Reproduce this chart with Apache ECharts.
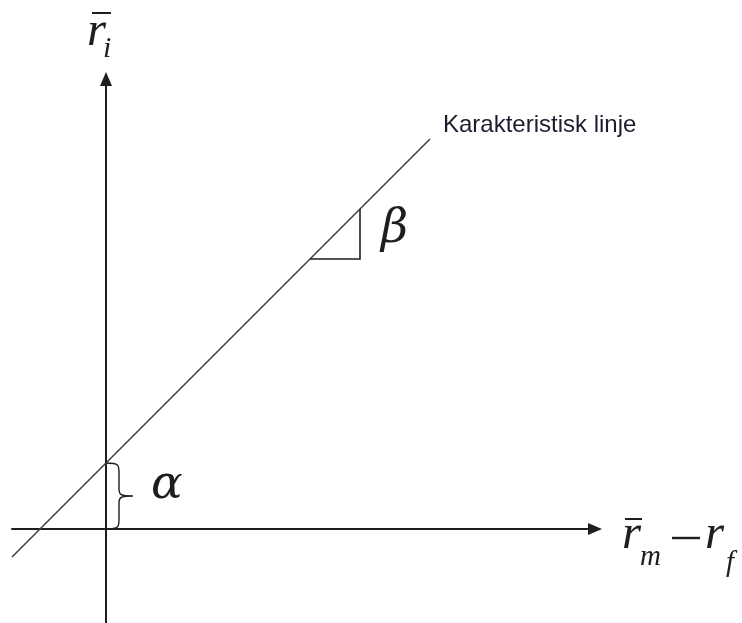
<!DOCTYPE html>
<html>
<head>
<meta charset="utf-8">
<script src="https://cdn.jsdelivr.net/npm/echarts@6/dist/echarts.min.js"></script>
<style>
  html, body { margin: 0; padding: 0; background: #ffffff; }
  #chart { width: 742px; height: 623px; }
</style>
</head>
<body>
<div id="chart"></div>
<script>
// Characteristic line: r_i = alpha + beta * (r_m - r_f)
const alpha = 0.66;               // intercept on the r_i axis
const beta = 1.0;                 // slope of the characteristic line
const xRange = [-0.94, 4.89];     // extent of the (r_m - r_f) axis
const yRange = [-0.94, 4.50];     // extent of the r_i axis
const lineX = [-0.94, 3.24];      // x extent of the characteristic line
const slopeRunX = [2.04, 2.54];   // horizontal run of the slope triangle
const lineLabel = 'Karakteristisk linje';
const alphaLabel = 'α';
const betaLabel = 'β';

const linePts = lineX.map(x => [x, alpha + beta * x]);
const triPts = [
  [slopeRunX[0], alpha + beta * slopeRunX[0]],
  [slopeRunX[1], alpha + beta * slopeRunX[0]],
  [slopeRunX[1], alpha + beta * slopeRunX[1]]
];

const INK = '#1e1e1e';
const GREEK_FONT = '"DejaVu Serif", "Liberation Serif", serif';
const MATH_FONT = '"Liberation Serif", "DejaVu Serif", serif';

const chart = echarts.init(document.getElementById('chart'), null, { renderer: 'canvas' });

function axisCommon(range) {
  return {
    type: 'value',
    min: range[0],
    max: range[1],
    splitLine: { show: false },
    axisTick: { show: false },
    axisLabel: { show: false },
    axisLine: {
      show: true,
      onZero: true,
      symbol: ['none', 'triangle'],
      symbolSize: [12, 14],
      lineStyle: { color: INK, width: 2 }
    }
  };
}

chart.setOption({
  animation: false,
  backgroundColor: '#ffffff',
  grid: { left: 12, right: 147, top: 79, bottom: 0, containLabel: false },
  xAxis: axisCommon(xRange),
  yAxis: axisCommon(yRange),
  series: [
    {
      // the characteristic line itself
      type: 'line',
      data: linePts,
      showSymbol: false,
      symbol: 'none',
      lineStyle: { color: '#444444', width: 1.6 },
      endLabel: {
        show: true,
        formatter: lineLabel,
        distance: 0,
        offset: [13, -14],
        fontFamily: '"Liberation Sans", Arial, sans-serif',
        fontSize: 24,
        color: '#1c1c2e'
      },
      z: 3
    },
    {
      // slope triangle marked with beta
      type: 'custom',
      coordinateSystem: 'cartesian2d',
      data: [0],
      renderItem: function (params, api) {
        const pts = triPts.map(p => api.coord(p));
        const right = pts[1][0];
        const midY = (pts[1][1] + pts[2][1]) / 2;
        return {
          type: 'group',
          children: [
            {
              type: 'polyline',
              shape: { points: pts },
              style: { stroke: INK, lineWidth: 1.6, fill: null }
            },
            {
              type: 'text',
              style: {
                text: betaLabel,
                x: right + 21,
                y: midY - 4,
                textAlign: 'left',
                textVerticalAlign: 'middle',
                font: 'italic 47px ' + GREEK_FONT,
                fill: INK
              }
            }
          ]
        };
      },
      z: 4
    },
    {
      // curly brace spanning the intercept, labelled alpha
      type: 'custom',
      coordinateSystem: 'cartesian2d',
      data: [0],
      renderItem: function (params, api) {
        const top = api.coord([0, alpha]);
        const bot = api.coord([0, 0]);
        const x0 = top[0];
        const xs = x0 + 13;           // stem of the brace
        const xt = x0 + 27;           // tip of the brace
        const ym = (top[1] + bot[1]) / 2;
        const t = top[1], b = bot[1];
        const path =
          'M' + x0 + ' ' + t +
          ' C' + xs + ' ' + t + ' ' + xs + ' ' + (t + 2) + ' ' + xs + ' ' + (t + 10) +
          ' L' + xs + ' ' + (ym - 7) +
          ' C' + xs + ' ' + (ym - 1) + ' ' + (xs + 2) + ' ' + ym + ' ' + xt + ' ' + ym +
          ' M' + xt + ' ' + ym +
          ' C' + (xs + 2) + ' ' + ym + ' ' + xs + ' ' + (ym + 1) + ' ' + xs + ' ' + (ym + 7) +
          ' L' + xs + ' ' + (b - 10) +
          ' C' + xs + ' ' + (b - 2) + ' ' + xs + ' ' + b + ' ' + x0 + ' ' + b;
        return {
          type: 'group',
          children: [
            {
              type: 'path',
              shape: { pathData: path },
              style: { stroke: INK, lineWidth: 1.4, fill: null }
            },
            {
              type: 'text',
              style: {
                text: alphaLabel,
                x: xt + 18,
                y: ym - 10,
                textAlign: 'left',
                textVerticalAlign: 'middle',
                font: 'italic 47px ' + GREEK_FONT,
                fill: INK
              }
            }
          ]
        };
      },
      z: 4
    }
  ]
});

// Axis titles: r̄_i on the vertical axis, r̄_m − r_f on the horizontal axis
const yTop = chart.convertToPixel({ gridIndex: 0 }, [0, yRange[1]]);
const xEnd = chart.convertToPixel({ gridIndex: 0 }, [xRange[1], 0]);

function mathText(text, x, y, size) {
  return {
    type: 'text',
    style: {
      text: text, x: x, y: y,
      textAlign: 'left', textVerticalAlign: 'middle',
      font: 'italic ' + size + 'px ' + MATH_FONT,
      fill: INK
    }
  };
}
function bar(x1, x2, y, w) {
  return {
    type: 'line',
    shape: { x1: x1, y1: y, x2: x2, y2: y },
    style: { stroke: INK, lineWidth: w || 2 }
  };
}

const yx = yTop[0], yy = yTop[1];
const xx = xEnd[0], xy = xEnd[1];

chart.setOption({
  graphic: [
    // r̄_i
    bar(yx - 14, yx + 5, yy - 66),
    mathText('r', yx - 19, yy - 47, 49),
    mathText('i', yx - 3, yy - 30, 30),
    // r̄_m − r_f
    bar(xx + 30, xx + 47, xy - 10),
    mathText('r', xx + 27, xy + 6, 49),
    mathText('m', xx + 45, xy + 28, 29),
    bar(xx + 77, xx + 105, xy + 9, 2.4),
    mathText('r', xx + 110, xy + 6, 49),
    mathText('f', xx + 131, xy + 34, 29)
  ]
});
</script>
</body>
</html>
